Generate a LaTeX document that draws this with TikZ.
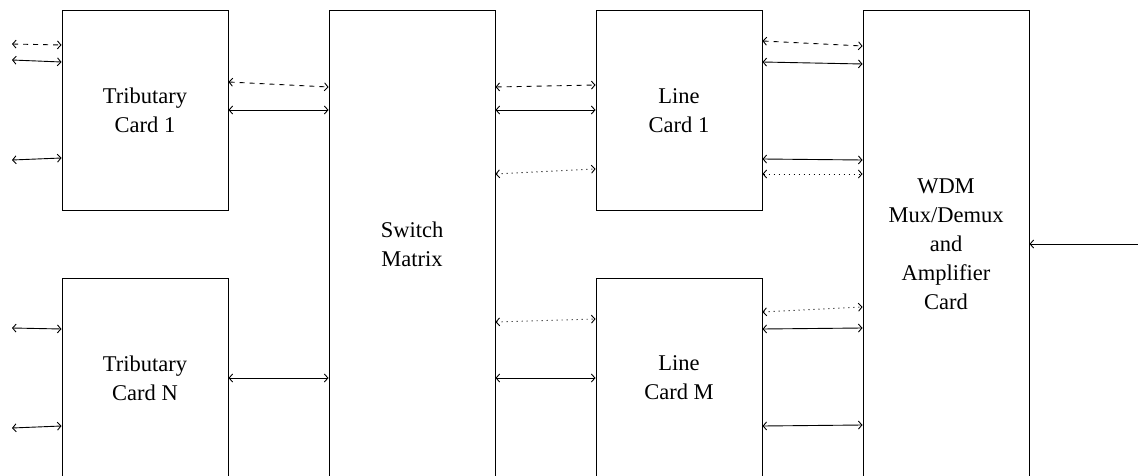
\documentclass[tikz,border=0pt]{standalone}
\usepackage{fontspec}
\setmainfont{Liberation Serif}
\usetikzlibrary{arrows.meta}
\tikzset{
  box/.style={draw, line width=1pt, minimum width=166pt, align=center, inner sep=0pt,
    font=\fontsize{22.5}{29}\selectfont},
  link/.style={line width=0.9pt, {Straight Barb[length=3.5pt,width=8pt]}-{Straight Barb[length=3.5pt,width=8pt]}},
  inlink/.style={line width=0.9pt, -{Straight Barb[length=3.5pt,width=8pt]}},
  dsh/.style={dash pattern=on 5pt off 5pt},
  dot/.style={dash pattern=on 1pt off 4pt},
}
\newcommand{\conn}[5]{\draw[link,#1] (#2.east |- 0,#3) -- (#4.west |- 0,#5);}
\begin{document}
\begin{tikzpicture}[x=1pt,y=-1pt]
\useasboundingbox (0,0) rectangle (1138,476);
\node[box, minimum height=199pt] (t1) at (145,110.5) {Tributary\\Card 1};
\node[box, minimum height=200pt] (tn) at (145,378) {Tributary\\Card N};
\node[box, minimum height=467pt] (sw) at (412,244.5) {Switch\\Matrix};
\node[box, minimum height=199pt] (l1) at (679,110.5) {Line\\Card 1};
\node[box, minimum height=200pt] (lm) at (679,378) {Line\\Card M};
\node[box, minimum height=467pt] (wdm) at (946,244.5) {WDM\\Mux/Demux\\and\\Amplifier\\Card};
% free ends on the left
\coordinate (a1) at (12,44);
\coordinate (a2) at (12,60);
\coordinate (a3) at (12,160);
\coordinate (a4) at (12,328);
\coordinate (a5) at (12,428);
\coordinate (r) at (1138,244);
\draw[link,dsh] (a1) -- (t1.west |- 0,45);
\draw[link] (a2) -- (t1.west |- 0,62);
\draw[link] (a3) -- (t1.west |- 0,158);
\draw[link] (a4) -- (tn.west |- 0,329);
\draw[link] (a5) -- (tn.west |- 0,426);
% tributary to switch
\conn{dsh}{t1}{82}{sw}{87}
\conn{}{t1}{110}{sw}{110}
\conn{}{tn}{378}{sw}{378}
% switch to line cards
\conn{dsh}{sw}{87}{l1}{85}
\conn{}{sw}{110}{l1}{110}
\conn{dot}{sw}{174}{l1}{169}
\conn{dot}{sw}{322}{lm}{319}
\conn{}{sw}{378}{lm}{378}
% line cards to WDM
\conn{dsh}{l1}{41}{wdm}{46}
\conn{}{l1}{62}{wdm}{64}
\conn{}{l1}{159}{wdm}{160}
\conn{dot}{l1}{174}{wdm}{174}
\conn{dot}{lm}{312}{wdm}{307}
\conn{}{lm}{329}{wdm}{328}
\conn{}{lm}{426}{wdm}{425}
% input on the right
\draw[inlink] (r) -- (wdm.east |- r);
\end{tikzpicture}
\end{document}
